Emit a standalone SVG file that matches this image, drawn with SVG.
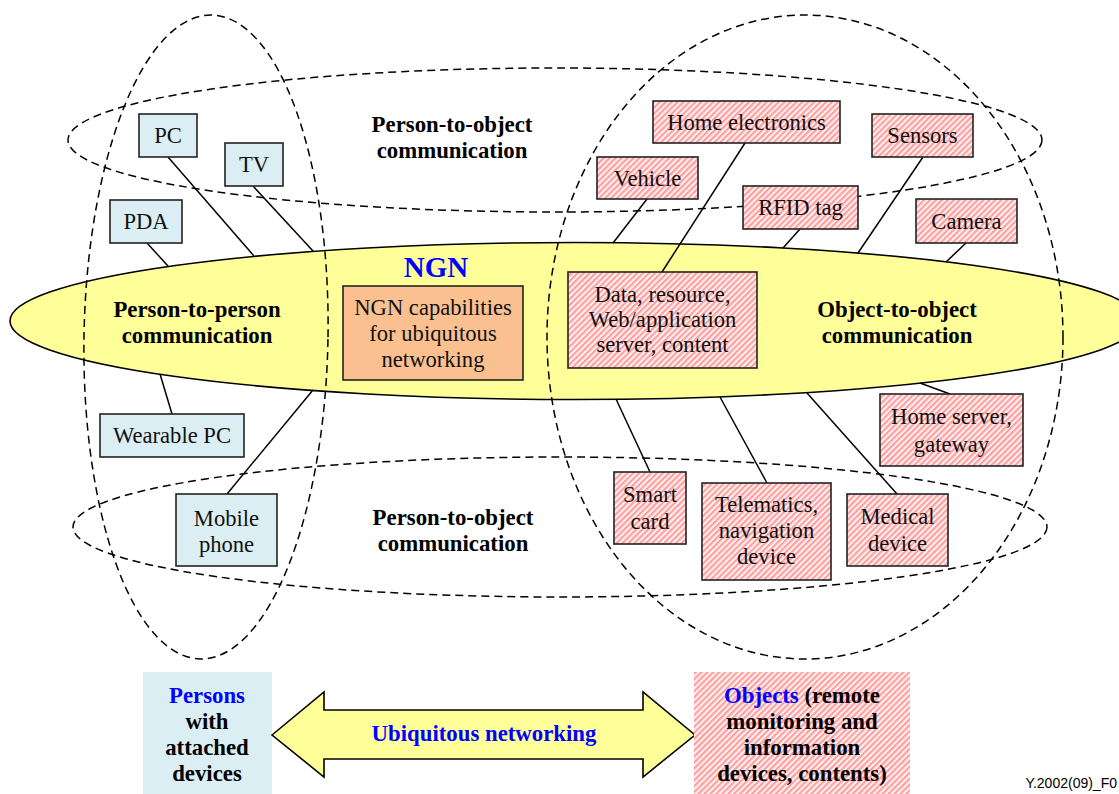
<svg xmlns="http://www.w3.org/2000/svg" width="1119" height="794" viewBox="0 0 1119 794">
<defs>
<pattern id="hatch" patternUnits="userSpaceOnUse" width="4.2" height="4.2" patternTransform="rotate(45)">
<rect width="4.2" height="4.2" fill="#fff0f0"/>
<rect width="2.1" height="4.2" fill="#ff9e9e"/>
</pattern>
<style>
.dash{fill:none;stroke:#000;stroke-width:1.5;stroke-dasharray:8 5}
.con{stroke:#000;stroke-width:1.5;fill:none}
.pbox{fill:#dbeef4;stroke:#222;stroke-width:1.6}
.obox{fill:url(#hatch);stroke:#222;stroke-width:1.6}
.t{font-family:"Liberation Serif","Times New Roman",serif;font-size:22.6px;fill:#111;text-anchor:middle}
.b{font-family:"Liberation Serif","Times New Roman",serif;font-size:22.8px;font-weight:bold;fill:#000;text-anchor:middle}
.blue{fill:#0000ff}
</style>
</defs>
<rect width="1119" height="794" fill="#fff"/>
<g id="ngn">
<ellipse cx="575" cy="321" rx="565" ry="78.5" fill="#ffff99" stroke="#000" stroke-width="1.6"/>
</g>
<g id="connectors">
<line class="con" x1="168" y1="157" x2="254" y2="256"/>
<line class="con" x1="253" y1="186" x2="313" y2="251"/>
<line class="con" x1="147" y1="243" x2="168" y2="266"/>
<line class="con" x1="160" y1="374" x2="172" y2="414"/>
<line class="con" x1="313" y1="390" x2="227" y2="494"/>
<line class="con" x1="745" y1="143" x2="662" y2="272"/>
<line class="con" x1="647" y1="199" x2="613" y2="243"/>
<line class="con" x1="800" y1="229" x2="783" y2="248"/>
<line class="con" x1="923" y1="157" x2="858" y2="253"/>
<line class="con" x1="966" y1="243" x2="946" y2="262"/>
<line class="con" x1="920" y1="383" x2="950" y2="394"/>
<line class="con" x1="616" y1="399" x2="650" y2="472"/>
<line class="con" x1="720" y1="397" x2="767" y2="483"/>
<line class="con" x1="807" y1="393" x2="897" y2="494"/>
</g>
<g id="regions">
<ellipse class="dash" cx="206" cy="337" rx="122" ry="322" transform="rotate(1 206 337)"/>
<ellipse class="dash" cx="805" cy="337" rx="258" ry="322"/>
<ellipse class="dash" cx="555" cy="140" rx="487" ry="72"/>
<ellipse class="dash" cx="560" cy="527" rx="487" ry="70"/>
</g>
<g id="labels">
<text class="b" x="452" y="132">Person-to-object</text>
<text class="b" x="452" y="158">communication</text>
<text class="b" x="197" y="317">Person-to-person</text>
<text class="b" x="197" y="343">communication</text>
<text class="b" x="897" y="317">Object-to-object</text>
<text class="b" x="897" y="343">communication</text>
<text class="b" x="453" y="525">Person-to-object</text>
<text class="b" x="453" y="551">communication</text>
<text class="b blue" x="436" y="277" style="font-size:29px">NGN</text>
</g>
<g id="ngn-capabilities">
<rect x="343" y="286" width="180" height="94" fill="#fac090" stroke="#222" stroke-width="1.6"/>
<text class="t" x="433" y="315">NGN capabilities</text>
<text class="t" x="433" y="341">for ubiquitous</text>
<text class="t" x="433" y="367">networking</text>
</g>
<g id="pc"><rect class="pbox" x="139" y="114" width="58" height="43"/><text class="t" x="168" y="143">PC</text></g>
<g id="tv"><rect class="pbox" x="225" y="143" width="58" height="43"/><text class="t" x="254" y="172">TV</text></g>
<g id="pda"><rect class="pbox" x="110" y="200" width="72" height="43"/><text class="t" x="146" y="229">PDA</text></g>
<g id="wearable"><rect class="pbox" x="100" y="414" width="144" height="43"/><text class="t" x="172" y="443">Wearable PC</text></g>
<g id="mobile"><rect class="pbox" x="176" y="494" width="101" height="72"/><text class="t" x="226.5" y="526">Mobile</text><text class="t" x="226.5" y="552">phone</text></g>
<g id="home-electronics"><rect class="obox" x="653" y="101" width="187" height="42"/><text class="t" x="746.5" y="130">Home electronics</text></g>
<g id="vehicle"><rect class="obox" x="597" y="157" width="101" height="42"/><text class="t" x="647.5" y="186">Vehicle</text></g>
<g id="rfid"><rect class="obox" x="743" y="186" width="115" height="43"/><text class="t" x="800.5" y="215">RFID tag</text></g>
<g id="sensors"><rect class="obox" x="872" y="114" width="101" height="43"/><text class="t" x="922.5" y="143">Sensors</text></g>
<g id="camera"><rect class="obox" x="916" y="199" width="101" height="44"/><text class="t" x="966.5" y="229">Camera</text></g>
<g id="data-server"><rect class="obox" x="568" y="272" width="189" height="96"/><text class="t" x="662.5" y="302">Data, resource,</text><text class="t" x="662.5" y="327">Web/application</text><text class="t" x="662.5" y="352">server, content</text></g>
<g id="home-server"><rect class="obox" x="880" y="394" width="143" height="72"/><text class="t" x="951.5" y="424">Home server,</text><text class="t" x="951.5" y="452">gateway</text></g>
<g id="smart-card"><rect class="obox" x="614" y="472" width="72" height="72"/><text class="t" x="650" y="502">Smart</text><text class="t" x="650" y="529">card</text></g>
<g id="telematics"><rect class="obox" x="702" y="483" width="129" height="97"/><text class="t" x="766.5" y="512">Telematics,</text><text class="t" x="766.5" y="538">navigation</text><text class="t" x="766.5" y="564">device</text></g>
<g id="medical"><rect class="obox" x="847" y="494" width="101" height="72"/><text class="t" x="897.5" y="524">Medical</text><text class="t" x="897.5" y="551">device</text></g>
<g id="persons">
<rect x="143" y="672" width="129" height="122" fill="#dbeef4"/>
<text class="b" x="207" y="703"><tspan class="blue">Persons</tspan></text>
<text class="b" x="207" y="729">with</text>
<text class="b" x="207" y="755">attached</text>
<text class="b" x="207" y="781">devices</text>
</g>
<g id="arrow">
<polygon points="272,735 324,692 324,710 643,710 643,692 695,735 643,777 643,759 324,759 324,777" fill="#ffff99" stroke="#000" stroke-width="1.6" stroke-linejoin="miter"/>
<text class="b blue" x="484" y="741">Ubiquitous networking</text>
</g>
<g id="objects">
<rect x="694" y="672" width="216" height="122" fill="url(#hatch)"/>
<text class="b" x="802" y="703"><tspan class="blue">Objects</tspan> (remote</text>
<text class="b" x="802" y="729">monitoring and</text>
<text class="b" x="802" y="755">information</text>
<text class="b" x="802" y="781">devices, contents)</text>
</g>
<text x="1117" y="788" font-family="Liberation Sans, Arial, sans-serif" font-size="14" text-anchor="end" fill="#000">Y.2002(09)_F0</text>
</svg>
